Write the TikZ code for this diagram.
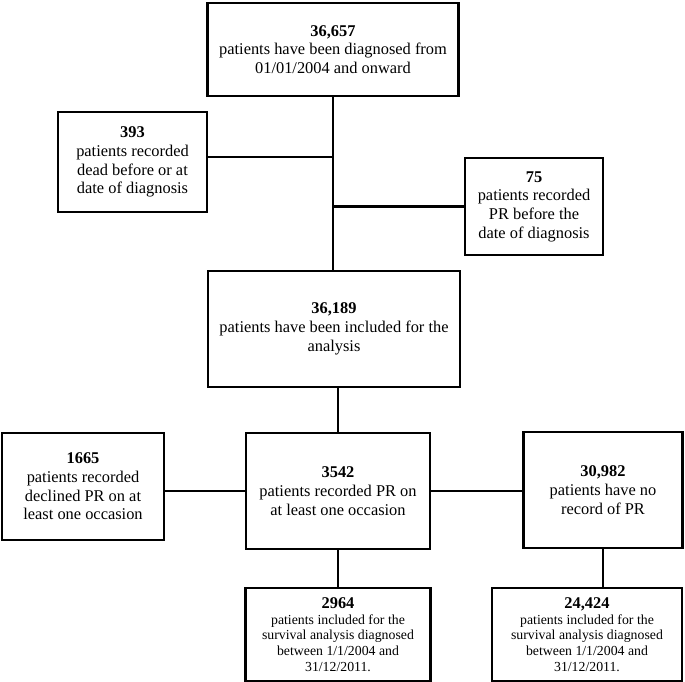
\documentclass[tikz,border=0pt]{standalone}
\usepackage{fontspec}
\setmainfont{Liberation Serif}
\usetikzlibrary{positioning}
\tikzset{
  box/.style={draw, line width=2.8pt, align=center, inner sep=2pt,
    font=\fontsize{16.4}{18.7}\selectfont},
  smallbox/.style={box, font=\fontsize{13.8}{15.7}\selectfont},
  link/.style={line width=2.8pt}
}
\newcommand{\bignum}[1]{{\fontsize{16.4}{18}\selectfont\textbf{#1}}}
\begin{document}
\begin{tikzpicture}[x=1pt, y=-1pt]
    \useasboundingbox (0,0) rectangle (685,682);

    % main column
    \node[box, minimum width=251pt, minimum height=93pt] (start) at (333,49.5)
        {\textbf{36,657}\\patients have been diagnosed from\\01/01/2004 and onward};
    \node[box, minimum width=252pt, minimum height=116pt] (incl) at (334,329)
        {\textbf{36,189}\\patients have been included for the\\analysis};
    \node[box, minimum width=184pt, minimum height=116pt] (pr) at (338,491)
        {\textbf{3542}\\patients recorded PR on\\at least one occasion};

    % exclusions
    \node[box, minimum width=149pt, minimum height=100pt] (dead) at (132.5,162)
        {\textbf{393}\\patients recorded\\dead before or at\\date of diagnosis};
    \node[box, minimum width=138pt, minimum height=97pt] (prbefore) at (534,206.5)
        {\textbf{75}\\patients recorded\\PR before the\\date of diagnosis};

    % side branches
    \node[box, minimum width=162pt, minimum height=107pt] (declined) at (83,486.5)
        {\textbf{1665}\\patients recorded\\declined PR on at\\least one occasion};
    \node[box, minimum width=159pt, minimum height=116pt] (nopr) at (603,490)
        {\textbf{30,982}\\patients have no\\record of PR};

    % survival analysis
    \node[smallbox, minimum width=185pt, minimum height=93pt] (survpr) at (338,634.5)
        {\bignum{2964}\\patients included for the\\survival analysis diagnosed\\between 1/1/2004 and\\31/12/2011.};
    \node[smallbox, minimum width=190pt, minimum height=93pt] (survno) at (587,634.5)
        {\bignum{24,424}\\patients included for the\\survival analysis diagnosed\\between 1/1/2004 and\\31/12/2011.};

    % connectors
    \draw[link] (start.south) -- (start.south |- incl.north);
    \draw[link] (dead.east |- 0,157) -- (start.south |- 0,157);
    \draw[link] (prbefore.west) -- (prbefore.west -| start.south);
    \draw[link] (pr.north |- incl.south) -- (pr.north);
    \draw[link] (pr.west) -- (pr.west -| declined.east);
    \draw[link] (pr.east) -- (pr.east -| nopr.west);
    \draw[link] (pr.south) -- (survpr.north);
    \draw[link] (nopr.south) -- (nopr.south |- survno.north);
\end{tikzpicture}
\end{document}
